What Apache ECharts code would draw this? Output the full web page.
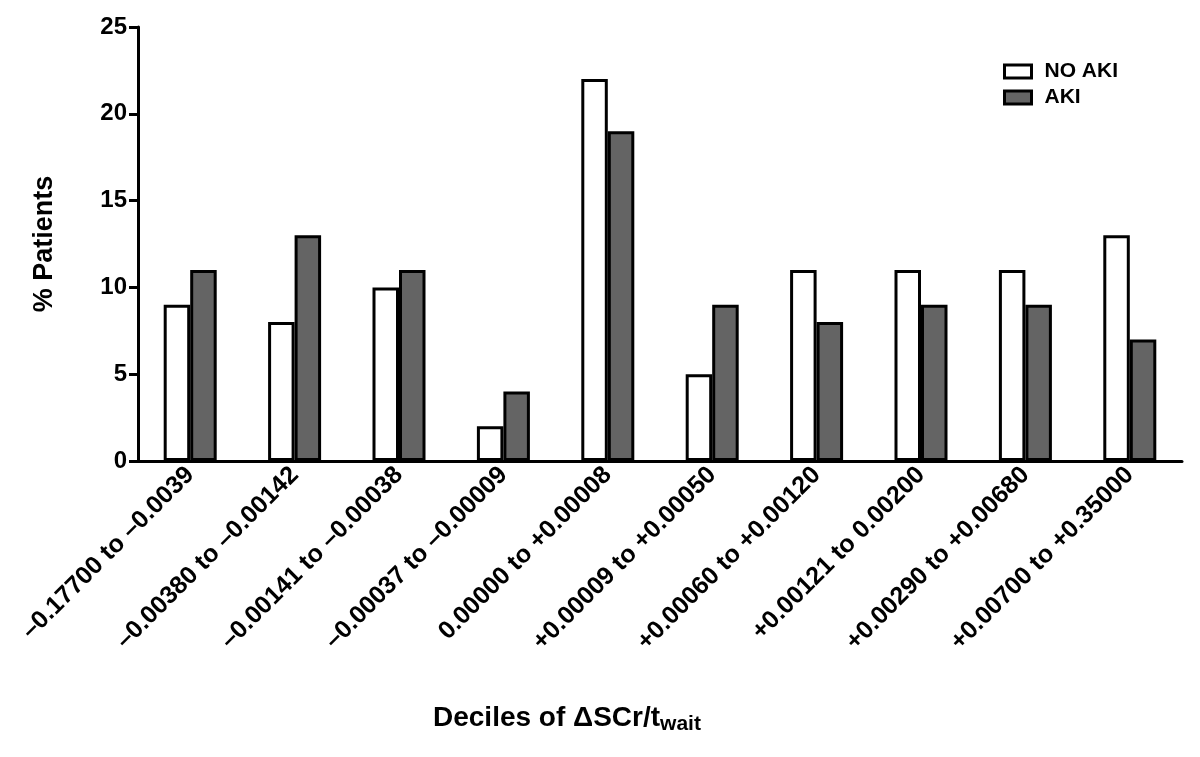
<!DOCTYPE html>
<html>
<head>
<meta charset="utf-8">
<script src="https://cdn.jsdelivr.net/npm/echarts@6/dist/echarts.min.js"></script>
<style>
  html, body { margin: 0; padding: 0; background: #fff; }
  #chart { width: 1200px; height: 757px; }
</style>
</head>
<body>
<div id="chart"></div>
<script>
  // deciles of ΔSCr/t_wait
  var categories = [
    '–0.17700 to –0.0039',
    '–0.00380 to –0.00142',
    '–0.00141 to –0.00038',
    '–0.00037 to –0.00009',
    '0.00000 to +0.00008',
    '+0.00009 to +0.00050',
    '+0.00060 to +0.00120',
    '+0.00121 to 0.00200',
    '+0.00290 to +0.00680',
    '+0.00700 to +0.35000'
  ];
  var noAki = [9, 8, 10, 2, 22, 5, 11, 11, 11, 13];
  var aki = [11, 13, 11, 4, 19, 9, 8, 9, 9, 7];
  var yTicks = [0, 5, 10, 15, 20, 25];

  var font = '"Liberation Sans", Arial, sans-serif';
  var myChart = echarts.init(document.getElementById('chart'));

  var option = {
    backgroundColor: '#fff',
    animation: false,
    grid: {
      left: 138,
      right: 18,
      top: 27,
      bottom: 296,
      containLabel: false,
      outerBoundsMode: 'none'
    },
    legend: {
      orient: 'vertical',
      left: 998,
      top: 56,
      itemWidth: 27,
      itemHeight: 13,
      itemGap: 5,
      icon: 'rect',
      itemStyle: { borderColor: '#000', borderWidth: 3 },
      textStyle: { fontFamily: font, fontWeight: 'bold', fontSize: 21, color: '#000', padding: [0, 0, 0, 8] },
      data: ['NO AKI', 'AKI']
    },
    xAxis: {
      type: 'category',
      data: categories,
      axisLine: { lineStyle: { color: '#000', width: 3 } },
      axisTick: { alignWithLabel: true, length: 8, lineStyle: { color: '#000', width: 3 } },
      axisLabel: {
        rotate: 45,
        margin: 10,
        interval: 0,
        fontFamily: font,
        fontWeight: 'bold',
        fontSize: 25,
        color: '#000'
      }
    },
    yAxis: {
      type: 'value',
      min: yTicks[0],
      max: yTicks[yTicks.length - 1],
      interval: 5,
      name: '% Patients',
      nameLocation: 'middle',
      nameGap: 80,
      nameTextStyle: { fontFamily: font, fontWeight: 'bold', fontSize: 27, color: '#000' },
      axisLine: { show: true, lineStyle: { color: '#000', width: 3 } },
      axisTick: { show: true, inside: false, length: 9, lineStyle: { color: '#000', width: 3 } },
      axisLabel: { margin: 11, fontFamily: font, fontWeight: 'bold', fontSize: 24, color: '#000' },
      splitLine: { show: false }
    },
    graphic: [{
      type: 'text',
      left: 433,
      top: 698,
      style: {
        text: '{a|Deciles of ΔSCr/t}{b|wait}',
        rich: {
          a: { fontFamily: font, fontWeight: 'bold', fontSize: 28, lineHeight: 31, verticalAlign: 'top', fill: '#000' },
          b: { fontFamily: font, fontWeight: 'bold', fontSize: 21, lineHeight: 21, verticalAlign: 'bottom', padding: [16, 0, 0, 0], fill: '#000' }
        }
      }
    }],
    series: [
      {
        name: 'NO AKI',
        type: 'bar',
        data: noAki,
        barWidth: 26.5,
        barGap: '0%',
        itemStyle: { color: '#fff', borderColor: '#000', borderWidth: 3 }
      },
      {
        name: 'AKI',
        type: 'bar',
        data: aki,
        barWidth: 26.5,
        barGap: '0%',
        itemStyle: { color: '#646464', borderColor: '#000', borderWidth: 3 }
      }
    ]
  };

  myChart.setOption(option);
</script>
</body>
</html>
